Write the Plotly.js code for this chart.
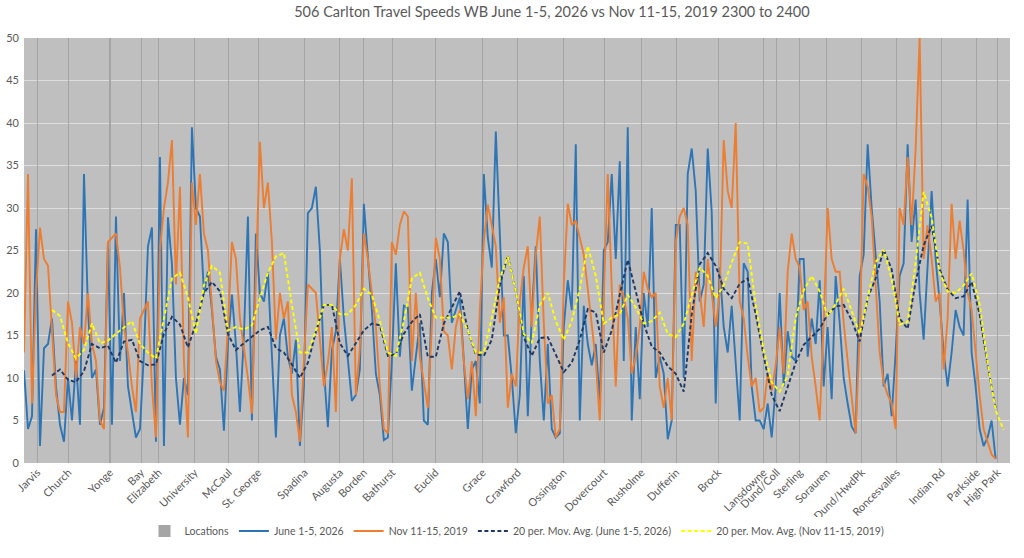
<!DOCTYPE html>
<html>
<head>
<meta charset="utf-8">
<script src="https://cdn.plot.ly/plotly-3.0.1.min.js"></script>
<style>html,body{margin:0;padding:0;background:#fff;}#chart{width:1024px;height:558px;}</style>
</head>
<body>
<div id="chart"></div>
<script>
// Location stop names and their sample index along the route
const locNames = ["Jarvis","Church","Yonge","Bay","Elizabeth","University","McCaul","St. George","Spadina","Augusta","Borden","Bathurst","Euclid","Grace","Crawford","Ossington","Dovercourt","Rusholme","Dufferin","Brock","Lansdowne","Dund/Coll","Sterling","Sorauren","Dund/HwdPk","Roncesvalles","Indian Rd","Parkside","High Park"];
const locIndex = [3.3,11.1,21.5,29.3,33.7,42.7,51.2,58.6,70.2,79,85,92.1,102.9,114.75,123.5,134.9,145.1,154.4,163.1,173.6,184.95,188.25,194,200.75,209.55,218.25,229.5,238.25,243.5];
const locHeight = [50,50,50,50,50,50,50,50,50,50,50,50,50,50,50,50,50,50,50,50,50,50,50,50,50,50,50,50,50];

// Speeds, June 1-5, 2026 (one value per sample index)
const june2026 = [
10.9,4,5.5,27.5,2,13.5,14,17,9,4.5,
2.5,10,5,12,4.5,34,18,10,11,4.5,
6.5,26,4.5,29,12,20,9,6,3,4,
13,25.5,27.7,2.5,36,2,28.9,23.4,10,4.5,
10,8,39.5,30,29,20,22.5,18,12.5,11,
3.8,14,19.8,14,6,15,29,5,27,20,
19,22.4,13,3,15,17,12.5,10.5,14.5,2,
9,29.4,30,32.5,25,11,4.2,13.3,15.5,24,
17,12.5,7.3,8,11,30.5,24.5,18,10.5,8,
2.7,3,12,23.5,12.5,18.5,18.3,8.5,12.5,16.5,
5,4.5,20,24,19.5,27,26,16.5,18,19.5,
12,4,11,12,7,34,26.5,23,39,26,
15,15,10,3.5,8,22,5.5,17.5,25.5,12,
5,14,4,3,3.5,16,21.5,18,37.5,5,
18.5,14,11.5,14,7,25,26,34,24,35.5,
12,39.5,5,16,7.5,20,16,30,10,12.5,
10.5,2.8,5,28,28,10,34,37,32,19,
21,37,29.5,7,23,16,13,18.5,11.5,5,
23.5,22.5,9,5,5,4,7,3,9,20,
9,15.5,12.5,12,24,24,12.5,17,14,21.5,
9,16,7.5,22,16.5,10,7,4.3,3.5,22,
24.5,37.5,30,24.5,19,9,10.5,5.5,13,22,
23.5,37.5,26,31,20,14.5,24,32,24,19,
13,9,13,18,16,15,31,13,9,4,
2,3,5,0.5];

// Speeds, Nov 11-15, 2019
const nov2019 = [
13,34,7,20,27.7,24,23.2,15,8,6,
6,19,16.5,10,16,14,20,14,12,5,
4,26,26.5,27,23,16,13,9,6,17,
18,19,9,3,25,30,33,38,21,32.5,
12,3,33,28,34,27,25,19,12,9.5,
8.5,16,26,24,17,13.5,10,5.8,21,37.8,
30,33,26,14.5,20,17,19,8,6,2.5,
12,21,20.5,20,14.5,9,11.8,16,6,24,
27.5,25,33.5,8,13.5,27,24,20,16,9,
4,3.5,26,24.5,28,29.6,29,12,20,12.5,
9.5,6.5,16,26.5,24,15.5,15,11,16,18,
12,7.5,12,5.5,18,26,30.4,27.7,25.5,16.5,
19.5,6.5,10.5,9,19,23,25.5,16,24.5,29,
16.5,7,8,3,4,21,30.5,28,28.5,26.5,
24.5,20.5,16.5,12,5,20,34,20.5,9,21,
19.5,17,10.5,12.5,16,22.5,20.5,19.5,20,9,
6.5,10,5,26,29,30,28,12,22.5,20,
16,24,20,16,20,38,32,30,40,19,
17,12.5,9,10,6,6.5,10.5,8.5,11.5,16,
10.5,22.5,27,24,23,18,19,12.5,9,5,
16.5,30,24,22.5,22.5,16.5,12,7.5,3.5,15,
34,32.5,29,21,13,9.5,8,7,4,30,
28,36,28,37,50,24,28,24,19,20,
11,17,30.5,24,28.5,25,20,18,13,8,
4,2.5,1,0.5];

// 20-period moving averages, read every 2nd sample starting at sample 7
const maFirstIndex = 7;
const maStep = 2;
const maJune2026 = [
10.3,11,9.8,9.5,10.8,14,13.5,13.8,11.8,14.3,
14.5,12,11.5,11.6,15.2,17.2,16.3,13.6,16.4,20,
21.3,20.2,15.2,13.3,14.1,14.8,15.6,16,13.5,13,
11.6,10,11.8,15.4,18.6,18.6,14.1,12.6,14.1,15.6,
16.4,16.2,12.6,12.8,15.2,16.6,17.5,12.5,12.5,16.4,
18.3,20.2,15.6,12.8,12.6,14.5,20.9,24.4,20.2,14.8,
12.6,14.7,14.8,12.8,10.7,11.8,14.5,18.1,17.7,13,
15.6,19.8,23.9,20.2,16.4,13.7,13,11.4,10.5,8.4,
17.5,23.4,24.7,23.2,20.5,19.4,21.1,21.7,17.5,12.6,
8,6.1,9,11.8,13.9,14.8,15.8,17.5,18.4,18.6,
16.8,14.3,19.4,21.7,25.1,22.8,17,15.8,21.3,25.6,
27.9,22.8,20.4,19.4,19.6,21.3,17.5,11.5,6.5];
const maNov2019 = [
18,17.3,14.1,12.3,13.3,16.4,14.1,14.4,15.2,16,
16.7,14,13,12.3,17,21.7,22.4,19.5,15.2,20.9,
23.2,22.4,15.6,16,15.7,16.2,19.4,22.4,24.3,24.7,
18.6,13,13,15.6,18.6,18.6,17.5,17.5,18.6,20.5,
19.8,16.7,13,12.6,16.7,21.7,22.4,19.4,17.1,17.1,
17.1,17.5,15.6,13,13,17.1,21.7,24.3,20.2,15.2,
14.1,18.6,20,16.7,14.5,16.7,20.5,25.5,22,16.4,
17.1,17.5,19.8,18.3,16.4,16.7,17.7,15.2,14.8,16.4,
19.8,23,22,19.4,20.9,23.6,26,25.8,18.6,13.3,
9.5,8.4,10.3,17.1,20.3,22,20.2,17.3,18.7,20.5,
17.9,15.2,19.4,23.6,25.1,21.7,16.3,16.6,23.6,31.9,
28.9,22.4,20.2,20,20.9,22.3,18.7,11.8,6.2,3.9];

const idx = a => a.map((_, i) => i);
const maIdx = a => a.map((_, i) => maFirstIndex + i * maStep);

const font = "Lato, 'Open Sans', sans-serif";
const txt = '#595959';

const traces = [
  {type:'bar', name:'Locations', x:locIndex, y:locHeight, width:0.3,
   marker:{color:'#a5a5a5', line:{width:0}}, hoverinfo:'skip'},
  {type:'scatter', mode:'lines', name:'June 1-5, 2026', x:idx(june2026), y:june2026,
   line:{color:'#2e75b6', width:1.9}},
  {type:'scatter', mode:'lines', name:'Nov 11-15, 2019', x:idx(nov2019), y:nov2019,
   line:{color:'#ed7d31', width:1.9}},
  {type:'scatter', mode:'lines', name:'20 per. Mov. Avg. (June 1-5, 2026)', x:maIdx(maJune2026), y:maJune2026,
   line:{color:'#1f3864', width:1.9, dash:'4px,2.5px'}},
  {type:'scatter', mode:'lines', name:'20 per. Mov. Avg. (Nov 11-15, 2019)', x:maIdx(maNov2019), y:maNov2019,
   line:{color:'#ffff00', width:1.9, dash:'4px,2.5px'}}
];

const layout = {
  width:1024, height:558,
  paper_bgcolor:'#ffffff', plot_bgcolor:'#bfbfbf',
  margin:{l:24, r:14, t:38, b:81, pad:0},
  font:{family:font, color:txt, size:11},
  title:{text:'506 Carlton Travel Speeds WB June 1-5, 2026 vs Nov 11-15, 2019 2300 to 2400',
         font:{family:font, size:14.5, color:txt}, x:0.539, xanchor:'center', y:0.978, yanchor:'middle'},
  showlegend:true,
  legend:{orientation:'h', x:0.5, xanchor:'center', y:-0.16, yanchor:'middle',
          font:{family:font, size:10.5, color:txt}, traceorder:'normal', itemwidth:30},
  bargap:0,
  xaxis:{type:'linear', range:[0,246.6], tickmode:'array', tickvals:locIndex, ticktext:locNames,
         tickangle:-45, showgrid:false, zeroline:false, showline:false, ticks:'',
         tickfont:{family:font, size:11, color:txt}, fixedrange:true},
  yaxis:{range:[0,50], dtick:5, tick0:0, showgrid:true, gridcolor:'#dedede', gridwidth:1,
         zeroline:false, showline:false, ticks:'', ticklabelstandoff:4,
         tickfont:{family:font, size:11, color:txt}, fixedrange:true}
};

Plotly.newPlot('chart', traces, layout, {staticPlot:true, displayModeBar:false});
</script>
</body>
</html>
